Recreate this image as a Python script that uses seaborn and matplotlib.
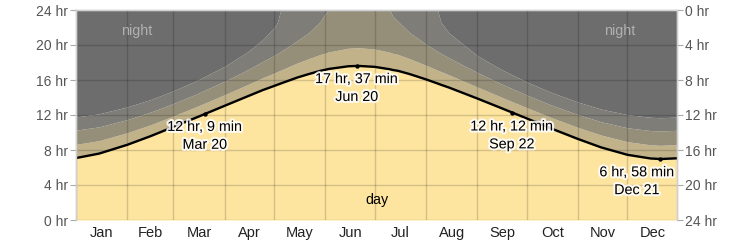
import numpy as np
import pandas as pd
import matplotlib
matplotlib.use("Agg")
import matplotlib.pyplot as plt
import seaborn as sns
from matplotlib import patheffects as pe

# ---- data (hours) ----
dates = ["2023-01-01", "2023-01-15", "2023-02-01", "2023-02-15", "2023-03-01", "2023-03-15",
         "2023-04-01", "2023-04-15", "2023-04-24", "2023-05-01", "2023-05-03", "2023-05-05",
         "2023-05-15", "2023-05-22", "2023-05-29", "2023-06-01", "2023-06-03", "2023-06-15",
         "2023-06-21", "2023-07-01", "2023-07-10", "2023-07-12", "2023-07-15", "2023-07-22",
         "2023-08-01", "2023-08-08", "2023-08-10", "2023-08-15", "2023-09-01", "2023-09-15",
         "2023-10-01", "2023-10-15", "2023-11-01", "2023-11-15", "2023-12-01", "2023-12-15",
         "2023-12-21", "2023-12-31"]
daylight = [7.08, 7.59, 8.59, 9.57, 10.64, 11.72,
            13.05, 14.14, 14.84, 15.32, 15.46, 15.60,
            16.28, 16.68, 17.05, 17.17, 17.26, 17.57,
            17.61, 17.50, 17.23, 17.14, 17.05, 16.68,
            16.07, 15.60, 15.46, 15.13, 13.89, 12.83,
            11.61, 10.52, 9.26, 8.30, 7.45, 7.03,
            6.97, 7.05]
civil = [8.64, 9.07, 9.97, 10.87, 11.89, 12.96,
         14.32, 15.48, 16.25, 16.79, 16.96, 17.12,
         17.94, 18.44, 18.92, 19.08, 19.20, 19.63,
         19.69, 19.54, 19.16, 19.04, 18.92, 18.44,
         17.68, 17.12, 16.96, 16.58, 15.21, 14.09,
         12.84, 11.77, 10.58, 9.71, 8.95, 8.59,
         8.53, 8.62]
nautical = [10.27, 10.65, 11.47, 12.32, 13.32, 14.41,
            15.86, 17.18, 18.11, 18.81, 19.03, 19.26,
            20.49, 21.42, 22.69, 23.60, 24.0, 24.0,
            24.0, 24.0, 24.0, 23.25, 22.69, 21.42,
            20.08, 19.26, 19.03, 18.53, 16.86, 15.61,
            14.28, 13.20, 12.05, 11.23, 10.54, 10.22,
            10.17, 10.25]
astronomical = [11.78, 12.14, 12.92, 13.75, 14.77, 15.92,
                17.56, 19.22, 20.60, 21.98, 22.6, 24.0,
                24.0, 24.0, 24.0, 24.0, 24.0, 24.0,
                24.0, 24.0, 24.0, 24.0, 24.0, 24.0,
                24.0, 24.0, 22.6, 21.36, 18.79, 17.26,
                15.78, 14.65, 13.48, 12.68, 12.04, 11.74,
                11.69, 11.76]

mark_dates = ["2023-03-20", "2023-06-20", "2023-09-22", "2023-12-21"]
mark_hours = [12.15, 17.617, 12.2, 6.967]
mark_values = ["12 hr, 9 min", "17 hr, 37 min", "12 hr, 12 min", "6 hr, 58 min"]
mark_days = ["Mar 20", "Jun 20", "Sep 22", "Dec 21"]

months = ["Jan", "Feb", "Mar", "Apr", "May", "Jun", "Jul", "Aug", "Sep", "Oct", "Nov", "Dec"]
hour_ticks = [0, 4, 8, 12, 16, 20, 24]

# ---- frame ----
start = pd.Timestamp("2023-01-01")
df = pd.DataFrame({"date": pd.to_datetime(dates), "daylight": daylight, "civil": civil,
                   "nautical": nautical, "astronomical": astronomical})
df["x"] = (df["date"] - start).dt.days
mk = pd.DataFrame({"x": (pd.to_datetime(mark_dates) - start).days, "h": mark_hours})

sns.set_style("white")
plt.rcParams["font.family"] = ["Liberation Sans", "DejaVu Sans"]

fig = plt.figure(figsize=(7.53, 2.42), dpi=100)
ax = fig.add_axes([76 / 753, 22 / 242, 601 / 753, 210 / 242])

c_day = "#fde49f"
c_civil = "#c1b28a"
c_naut = "#958e78"
c_astro = "#7f7d77"
c_night = "#6d6d6d"

x = df["x"].values
ax.fill_between(x, 0, df["daylight"], color=c_day, lw=0, zorder=1)
ax.fill_between(x, df["daylight"], df["civil"], color=c_civil, lw=0, zorder=1)
ax.fill_between(x, df["civil"], df["nautical"], color=c_naut, lw=0, zorder=1)
ax.fill_between(x, df["nautical"], df["astronomical"], color=c_astro, lw=0, zorder=1)
ax.fill_between(x, df["astronomical"], 24, color=c_night, lw=0, zorder=1)

sns.lineplot(data=df, x="x", y="daylight", ax=ax, color="black", lw=1.7, zorder=4)
sns.scatterplot(data=mk, x="x", y="h", ax=ax, color="black", s=10, zorder=5, linewidth=0)

xmax = 364
ax.set_xlim(0, xmax)
ax.set_ylim(0, 24)

month_starts = [(pd.Timestamp(2023, m, 1) - start).days for m in range(1, 13)]
month_mids = [(pd.Timestamp(2023, m, 1) - start).days +
              pd.Timestamp(2023, m, 1).days_in_month / 2 for m in range(1, 13)]
ax.set_xticks(month_starts)
ax.set_xticklabels([])
ax.set_xticks(month_mids, minor=True)
ax.set_xticklabels(months, minor=True)
ax.tick_params(axis="x", which="major", length=5, color="#cfcfcf", width=1)
ax.tick_params(axis="x", which="minor", length=0, pad=4, labelsize=10.5, labelcolor="#222222")

ax.set_yticks(hour_ticks)
ax.set_yticklabels([f"{h} hr" for h in hour_ticks])
ax.tick_params(axis="y", length=4, color="#aaaaaa", labelsize=10, labelcolor="#555555", pad=2)
ax.grid(True, which="major", color="black", alpha=0.16, lw=1)
ax.set_axisbelow(False)
ax.set_xlabel("")
ax.set_ylabel("")

ax2 = ax.twinx()
ax2.set_ylim(24, 0)
ax2.set_yticks(hour_ticks)
ax2.set_yticklabels([f"{h} hr" for h in hour_ticks])
ax2.tick_params(axis="y", length=4, color="#aaaaaa", labelsize=10, labelcolor="#555555", pad=2)
ax2.grid(False)

for a in (ax, ax2):
    for s in a.spines.values():
        s.set_color("#d0d0d0")
        s.set_linewidth(1)
    a.spines["bottom"].set_visible(False)

halo = [pe.withStroke(linewidth=3, foreground="white", alpha=0.85)]
offsets = [0, 0, 0, -17]
for xi, hi, t1, t2, dx in zip(mk["x"], mark_hours, mark_values, mark_days, offsets):
    ax.annotate(f"{t1}\n{t2}", (xi, hi), xytext=(dx, -4.5), textcoords="offset points",
                ha="center", va="top", fontsize=10.3, color="black", linespacing=1.35,
                path_effects=halo, zorder=6)

ax.text(37, 21.6, "night", ha="center", va="center", fontsize=10.3, color="#b0b0b0", zorder=6)
ax.text(329, 21.6, "night", ha="center", va="center", fontsize=10.3, color="#b0b0b0", zorder=6)
ax.text(182.5, 2.3, "day", ha="center", va="center", fontsize=10.3, color="black", zorder=6)

fig.savefig("out.png", dpi=100)
